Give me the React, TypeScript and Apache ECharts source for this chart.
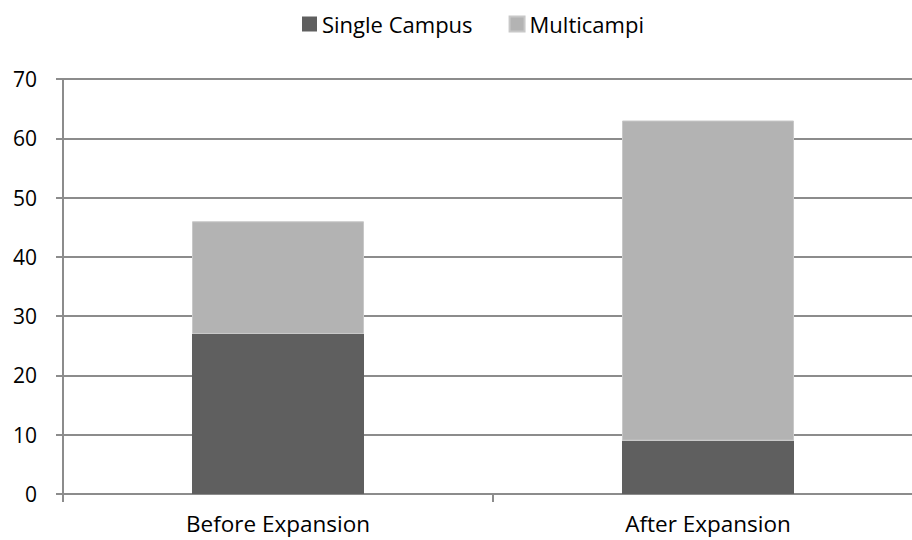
import React, { useEffect, useRef } from "react";
import * as echarts from "echarts";

const categories = ["Before Expansion", "After Expansion"];
const singleCampus = [27, 9];
const multicampi = [19, 54];
const yTicks = { min: 0, max: 70, interval: 10 };

export default function App() {
  const ref = useRef<HTMLDivElement>(null);
  useEffect(() => {
    if (!ref.current) return;
    const chart = echarts.init(ref.current, null, { renderer: "svg" });
    const font = "Open Sans";
    chart.setOption({
      animation: false,
      textStyle: { fontFamily: font },
      legend: {
        top: 8,
        left: 297,
        itemWidth: 15,
        itemHeight: 15,
        itemGap: 36,
        icon: "rect",
        textStyle: { fontFamily: font, fontSize: 22, color: "#000" },
        data: ["Single Campus", "Multicampi"],
      },
      grid: { left: 63, right: 0, top: 79, bottom: 46, containLabel: false },
      xAxis: {
        type: "category",
        data: categories,
        axisLine: { lineStyle: { color: "#8c8c8c", width: 2 } },
        axisTick: { show: true, length: 8, lineStyle: { color: "#8c8c8c", width: 2 } },
        axisLabel: { fontFamily: font, fontSize: 22.5, color: "#000", margin: 18 },
      },
      yAxis: {
        type: "value",
        min: yTicks.min,
        max: yTicks.max,
        interval: yTicks.interval,
        axisLine: { show: true, lineStyle: { color: "#8c8c8c", width: 2 } },
        axisTick: { show: true, length: 7, lineStyle: { color: "#8c8c8c", width: 2 } },
        splitLine: { lineStyle: { color: "#8c8c8c", width: 2 } },
        axisLabel: { fontFamily: font, fontSize: 21, color: "#000", margin: 26 },
      },
      series: [
        {
          name: "Single Campus",
          type: "bar",
          stack: "total",
          barWidth: "40%",
          data: singleCampus,
          itemStyle: { color: "#5f5f5f" },
        },
        {
          name: "Multicampi",
          type: "bar",
          stack: "total",
          barWidth: "40%",
          data: multicampi,
          itemStyle: { color: "#b3b3b3", borderColor: "#c8c8c8", borderWidth: 1 },
        },
      ],
    });
    return () => chart.dispose();
  }, []);
  return (
    <div style={{ position: "absolute", left: 0, top: 0, width: 912, height: 540, overflow: "hidden" }}>
      <div ref={ref} style={{ width: 923, height: 540 }} />
    </div>
  );
}
